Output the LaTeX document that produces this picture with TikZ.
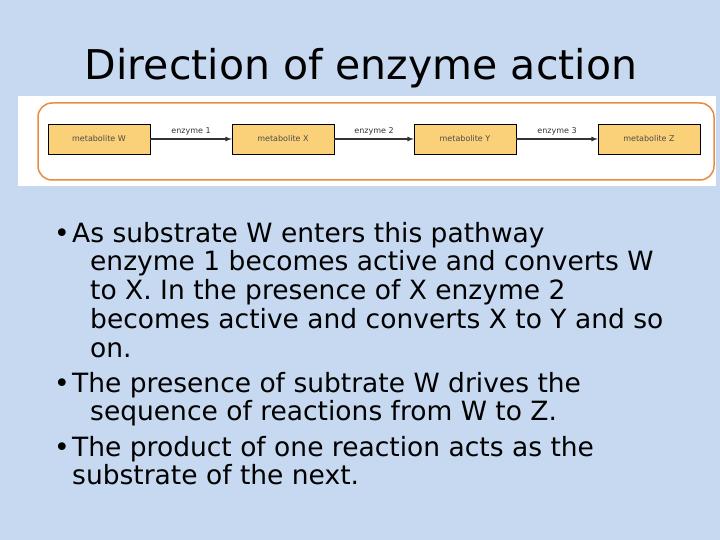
\documentclass[tikz,border=0pt]{standalone}
\usepackage{fontspec}
\setmainfont{DejaVu Sans}
\begin{document}
\begin{tikzpicture}[x=1pt,y=-1pt,
  met/.style={draw=black,fill={rgb,255:red,250;green,208;blue,120},minimum width=102pt,minimum height=30pt,inner sep=0pt,font=\fontsize{8}{9}\selectfont\color{black!70}},
  arr/.style={-latex,very thick,black!80},
  enz/.style={font=\fontsize{8}{9}\selectfont\color{black!70},above,pos=0.5},
  ln/.style={anchor=base west,inner sep=0pt,font=\fontsize{26.5}{30}\selectfont}]
\fill[fill={rgb,255:red,198;green,217;blue,240}] (0,0) rectangle (720,540);
\node[font=\fontsize{41}{46}\selectfont,anchor=base] (title) at (361,80) {Direction of enzyme action};
\fill[white] (18,96) rectangle (716,186);
\draw[draw={rgb,255:red,230;green,140;blue,70},line width=1.5pt,rounded corners=14pt] (38,103) rectangle (714,180);
\node[met] (w) at (99,139) {metabolite W};
\node[met] (x) at (283,139) {metabolite X};
\node[met] (y) at (465,139) {metabolite Y};
\node[met] (z) at (649,139) {metabolite Z};
\draw[arr] (w) -- node[enz]{enzyme 1} (x);
\draw[arr] (x) -- node[enz]{enzyme 2} (y);
\draw[arr] (y) -- node[enz]{enzyme 3} (z);
\node[ln] (b1) at (54,242) {•};
\node[ln] (l1) at (72,242) {As substrate W enters this pathway};
\node[ln] (l2) at (90,270) {enzyme 1 becomes active and converts W};
\node[ln] (l3) at (90,299) {to X. In the presence of X enzyme 2};
\node[ln] (l4) at (90,328) {becomes active and converts X to Y and so};
\node[ln] (l5) at (90,357) {on.};
\node[ln] (b2) at (54,392) {•};
\node[ln] (l6) at (72,392) {The presence of subtrate W drives the};
\node[ln] (l7) at (90,420) {sequence of reactions from W to Z.};
\node[ln] (b3) at (54,456) {•};
\node[ln] (l8) at (72,456) {The product of one reaction acts as the};
\node[ln] (l9) at (72,484) {substrate of the next.};
\end{tikzpicture}
\end{document}
